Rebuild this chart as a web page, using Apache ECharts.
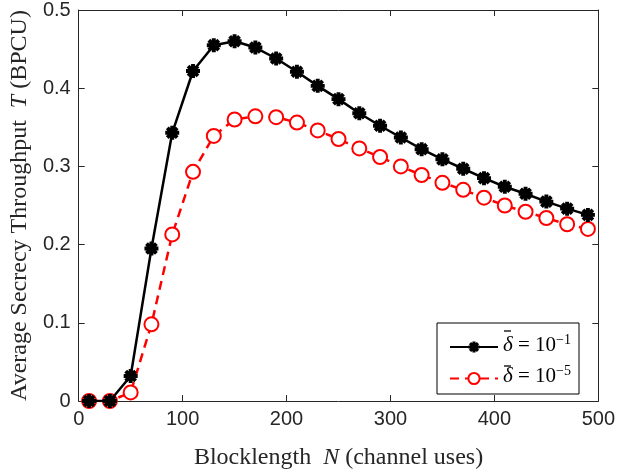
<!DOCTYPE html>
<html><head><meta charset="utf-8">
<script src="https://cdn.jsdelivr.net/npm/echarts@6/dist/echarts.min.js"></script>
<style>html,body{margin:0;padding:0;background:#fff}#c{width:618px;height:475px}</style>
</head><body><div id="c"></div>
<script>
const blocklength = [10,30,50,70,90,110,130,150,170,190,210,230,250,270,290,310,330,350,370,390,410,430,450,470,490];
const throughputD1 = [0,0,0.032,0.195,0.343,0.422,0.455,0.460,0.452,0.438,0.421,0.403,0.386,0.368,0.352,0.337,0.322,0.309,0.297,0.285,0.274,0.265,0.255,0.246,0.238];
const throughputD5 = [0,0,0.011,0.098,0.213,0.293,0.339,0.360,0.364,0.363,0.356,0.346,0.335,0.323,0.312,0.300,0.289,0.279,0.270,0.260,0.250,0.242,0.234,0.226,0.220];
const xTicks = [0,100,200,300,400,500];
const yTicks = [0,0.1,0.2,0.3,0.4,0.5];

const asterisk = 'path://M-5,-1.4L5,-1.4L5,1.4L-5,1.4Z M-1.4,-5L1.4,-5L1.4,5L-1.4,5Z M-2.545,-4.525L4.525,2.545L2.545,4.525L-4.525,-2.545Z M-4.525,2.545L2.545,-4.525L4.525,-2.545L-2.545,4.525Z';
const axisCol = '#262626';
const serif = '"Liberation Serif","DejaVu Serif",serif';
const sans = '"Liberation Sans",Arial,sans-serif';

const chart = echarts.init(document.getElementById('c'));
const baseX = {type:'value', min:0, max:500, interval:100, gridIndex:0,
  axisLine:{show:true,onZero:false,lineStyle:{color:axisCol,width:1}},
  axisTick:{show:true,inside:true,length:6,lineStyle:{color:axisCol}},
  splitLine:{show:false}};
const baseY = {type:'value', min:0, max:0.5, interval:0.1, gridIndex:0,
  axisLine:{show:true,onZero:false,lineStyle:{color:axisCol,width:1}},
  axisTick:{show:true,inside:true,length:6,lineStyle:{color:axisCol}},
  splitLine:{show:false}};
chart.setOption({
  animation:false,
  backgroundColor:'#fff',
  grid:{left:78,right:18,top:4,bottom:72,containLabel:false},
  xAxis:[
    Object.assign({}, baseX, {position:'bottom',
      axisLabel:{show:true,color:axisCol,fontFamily:sans,fontSize:20,margin:8,
        formatter:v=>xTicks.includes(v)?String(v):''},
      name:'Blocklength  {i|N} (channel uses)', nameLocation:'middle', nameGap:45,
      nameTextStyle:{color:axisCol,fontFamily:serif,fontSize:24,
        rich:{i:{fontFamily:serif,fontSize:24,fontStyle:'italic',color:axisCol}}}}),
    Object.assign({}, baseX, {position:'top', axisLabel:{show:false}})
  ],
  yAxis:[
    Object.assign({}, baseY, {position:'left',
      axisLabel:{show:true,color:axisCol,fontFamily:sans,fontSize:20,margin:8,
        formatter:v=>{const t=yTicks.find(y=>Math.abs(y-v)<1e-9);return t===undefined?'':(t===0?'0':String(t));}},
      name:'Average Secrecy Throughput  {i|T} (BPCU)', nameLocation:'middle', nameGap:46,
      nameTextStyle:{color:axisCol,fontFamily:serif,fontSize:24,
        rich:{i:{fontFamily:serif,fontSize:24,fontStyle:'italic',color:axisCol}}}}),
    Object.assign({}, baseY, {position:'right', axisLabel:{show:false}})
  ],
  legend:{
    show:true, orient:'vertical', left:437, top:323,
    padding:[10,8,7,12], itemGap:9, itemWidth:48, itemHeight:14,
    backgroundColor:'#fff', borderColor:'#000', borderWidth:1, borderRadius:0,
    textStyle:{fontFamily:serif,fontSize:21,color:'#000',
      rich:{d:{fontFamily:serif,fontSize:21,fontStyle:'italic',color:'#000',padding:[0,0,4,0]},
            t:{fontFamily:serif,fontSize:21,color:'#000',padding:[0,0,4,0]},
            s:{fontFamily:serif,fontSize:14,color:'#000',padding:[0,0,14,0]}}},
    formatter:name=> name==='d1' ? '{d|δ}{t| = 10}{s|\u22121}' : '{d|δ}{t| = 10}{s|\u22125}',
    data:['d1','d5']
  },
  graphic:[
    {type:'line', z:200, shape:{x1:504, y1:331, x2:511, y2:331}, style:{stroke:'#000', lineWidth:1.3}},
    {type:'line', z:200, shape:{x1:504, y1:366, x2:511, y2:366}, style:{stroke:'#000', lineWidth:1.3}}
  ],
  series:[
    {name:'d1', type:'line', xAxisIndex:0, yAxisIndex:0,
     data: blocklength.map((x,i)=>[x,throughputD1[i]]),
     symbol:asterisk, symbolSize:14,
     itemStyle:{color:'#000',borderWidth:0},
     lineStyle:{color:'#000',width:2.5,type:'solid'}, z:3},
    {name:'d5', type:'line', xAxisIndex:0, yAxisIndex:0,
     data: blocklength.map((x,i)=>[x,throughputD5[i]]),
     symbol:'emptyCircle', symbolSize:14,
     itemStyle:{color:'#ff0000',borderColor:'#ff0000',borderWidth:2.5},
     lineStyle:{color:'#ff0000',width:2.5,type:[9,6]}, z:2}
  ]
});
</script></body></html>
